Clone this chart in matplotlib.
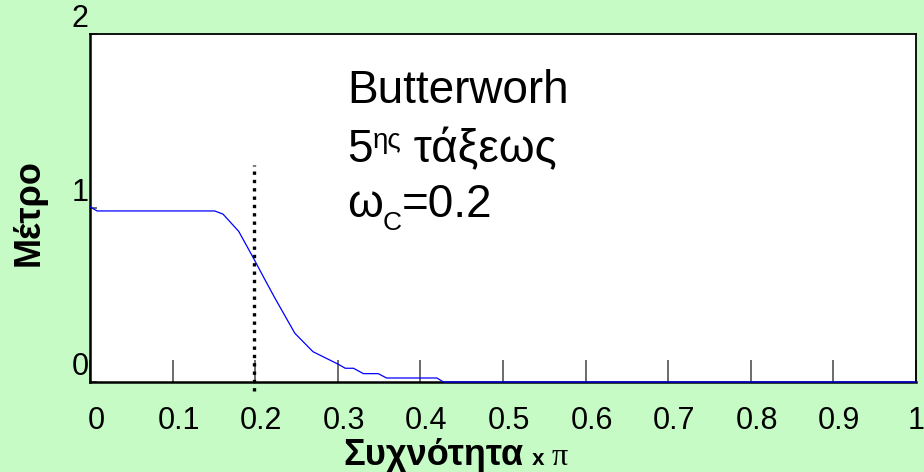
import matplotlib
matplotlib.use("Agg")
import matplotlib.pyplot as plt
import matplotlib.transforms as mtrans

# ---- data ----
freq = [0, 0.0085, 0.151, 0.161, 0.180, 0.198, 0.212, 0.224, 0.248, 0.270,
        0.301, 0.309, 0.319, 0.331, 0.349, 0.359, 0.420, 0.428, 1.0]
mag = [1.007, 0.983, 0.983, 0.965, 0.866, 0.711, 0.586, 0.481, 0.280, 0.174,
       0.101, 0.079, 0.079, 0.048, 0.048, 0.023, 0.023, 0.0, 0.0]
cutoff = 0.198
cut_span = [-0.05, 1.25]
xticks = [0, 0.1, 0.2, 0.3, 0.4, 0.5, 0.6, 0.7, 0.8, 0.9, 1]
xtick_labels = ["0", "0.1", "0.2", "0.3", "0.4", "0.5", "0.6", "0.7", "0.8", "0.9", "1"]
yticks = [0, 1, 2]
ytick_labels = ["0", "1", "2"]

plt.rcParams['font.family'] = ['Liberation Sans', 'DejaVu Sans']
BG = '#C6FBC6'
W, H = 924, 472

fig = plt.figure(figsize=(W / 100, H / 100), dpi=100, facecolor=BG)
ax = fig.add_axes([90 / W, 1 - 382 / H, (916 - 90) / W, (382 - 34) / H])
ax.set_facecolor('white')

ax.plot(freq, mag, color='#0000FF', lw=0.9, zorder=3, clip_on=False)
ax.plot([cutoff, cutoff], cut_span, color='black', lw=2.4,
        linestyle=(0, (1.0, 1.5)), dash_capstyle='butt', clip_on=False, zorder=4)

ax.set_xlim(0, 1)
ax.set_ylim(0, 2)
ax.set_xticks(xticks)
ax.set_xticklabels(xtick_labels)
ax.set_yticks(yticks)
ax.set_yticklabels(ytick_labels)

ax.tick_params(axis='x', direction='in', length=16, width=1.1, color='#444444',
               labelsize=22, pad=17)
ax.tick_params(axis='y', direction='in', length=5, width=1.1, color='#444444',
               labelsize=22, pad=1)
xlabs = ax.get_xticklabels()
for i, lab in enumerate(xlabs):
    dx = 6 if i < len(xlabs) - 1 else 0
    lab.set_transform(lab.get_transform() +
                      mtrans.ScaledTranslation(dx / 100, 0, fig.dpi_scale_trans))
for lab in ax.get_yticklabels():
    lab.set_va('bottom')

for side in ['left', 'bottom']:
    ax.spines[side].set_linewidth(1.8)
    ax.spines[side].set_color('black')
for side in ['top', 'right']:
    ax.spines[side].set_linewidth(1.3)
    ax.spines[side].set_color('black')

# y label
fig.text(29 / W, 1 - 213 / H, "Μέτρο", rotation=90, fontsize=26, fontweight='bold',
         ha='center', va='center')

# x label
t_x = fig.text(343 / W, 1 - 465 / H, "Συχνότητα", fontsize=26, fontweight='bold',
               ha='left', va='baseline')
t_x2 = ax.annotate(" x", xy=(1, 0), xycoords=t_x, xytext=(2, 2.5),
                   textcoords='offset points', fontsize=16, fontweight='bold',
                   ha='left', va='bottom', annotation_clip=False)
ax.annotate(" π", xy=(1, 0), xycoords=t_x2, xytext=(0, -1.5),
            textcoords='offset points', fontsize=23, family='Liberation Serif',
            ha='left', va='bottom', annotation_clip=False)

# annotation block
FS = 33
fig.text(347 / W, 1 - 103 / H, "Butterworh", fontsize=FS, ha='left', va='baseline')

t5 = fig.text(347 / W, 1 - 162 / H, "5", fontsize=FS, ha='left', va='baseline')
t_sup = ax.annotate("ης", xy=(1, 0), xycoords=t5, xytext=(0, 13),
                    textcoords='offset points', fontsize=20, ha='left', va='bottom',
                    annotation_clip=False)
ax.annotate(" τάξεως", xy=(1, 0), xycoords=t_sup, xytext=(0, -13),
            textcoords='offset points', fontsize=FS, ha='left', va='bottom',
            annotation_clip=False)

tw = fig.text(347 / W, 1 - 217 / H, "ω", fontsize=FS, ha='left', va='baseline')
t_sub = ax.annotate("C", xy=(1, 0), xycoords=tw, xytext=(0, -6),
                    textcoords='offset points', fontsize=19, ha='left', va='bottom',
                    annotation_clip=False)
ax.annotate("=0.2", xy=(1, 0), xycoords=t_sub, xytext=(0, 6),
            textcoords='offset points', fontsize=FS, ha='left', va='bottom',
            annotation_clip=False)

fig.savefig("out.png", dpi=100, facecolor=BG)
